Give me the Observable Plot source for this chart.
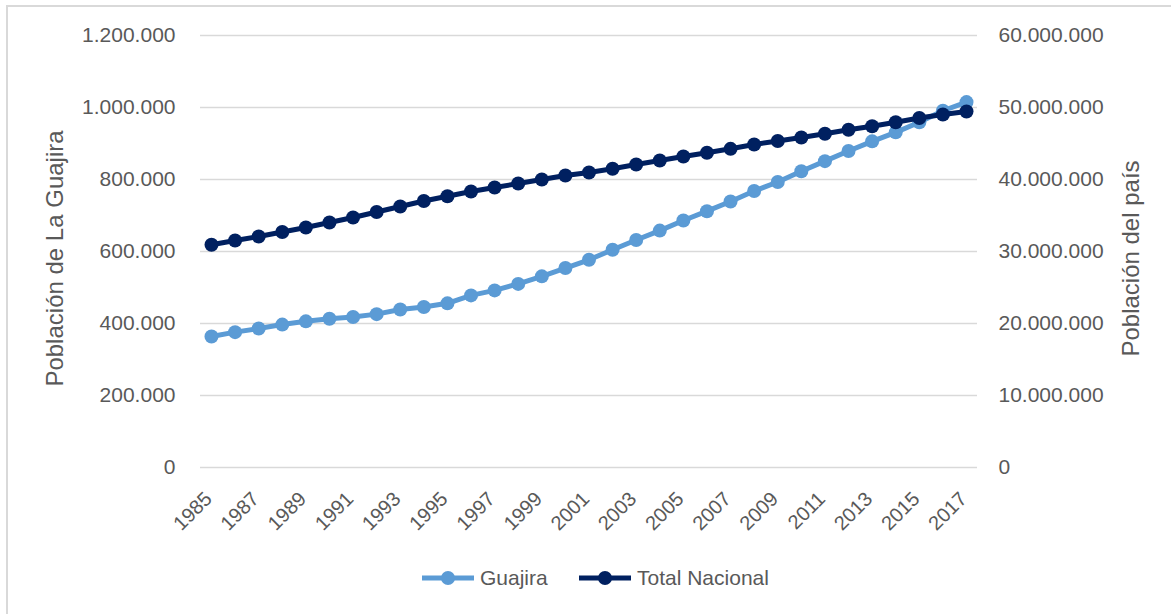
<!DOCTYPE html>
<html>
<head>
<meta charset="utf-8">
<script src="https://cdn.jsdelivr.net/npm/d3@7"></script>
<script src="https://cdn.jsdelivr.net/npm/@observablehq/plot@0.6"></script>
<style>
  body { margin: 0; background: #fff; font-family: "Liberation Sans", Arial, sans-serif; }
  #wrap { position: relative; width: 1171px; height: 614px; overflow: hidden; background: #fff; }
  #frame { position: absolute; left: 6px; top: 5px; width: 1200px; height: 700px; border-left: 2px solid #d9d9d9; border-top: 2px solid #d9d9d9; box-sizing: border-box; }
  #chart { position: absolute; left: 0; top: 0; }
  .leg { position: absolute; top: 565px; height: 26px; display: flex; align-items: center; color: #595959; font-size: 21px; }
  .leg svg { margin-right: 6px; }
</style>
</head>
<body>
<div id="wrap">
  <div id="frame"></div>
  <div id="chart"></div>
  <div id="legend"></div>
</div>
<script>
// ---- data ----
const years = [1985, 1986, 1987, 1988, 1989, 1990, 1991, 1992, 1993, 1994, 1995, 1996, 1997, 1998, 1999, 2000,
               2001, 2002, 2003, 2004, 2005, 2006, 2007, 2008, 2009, 2010, 2011, 2012, 2013, 2014, 2015, 2016, 2017];
const guajira = [364000, 376000, 386000, 397000, 406000, 413000, 418000, 426000, 439000, 446000, 456000, 478000,
                 492000, 510000, 531000, 554000, 577000, 605000, 632000, 658000, 686000, 712000, 739000, 768000,
                 793000, 823000, 851000, 879000, 906000, 931000, 959000, 991000, 1015000];
const nacional = [30930000, 31530000, 32080000, 32710000, 33330000, 34030000, 34720000, 35490000, 36250000,
                  37010000, 37680000, 38330000, 38890000, 39440000, 40000000, 40560000, 40970000, 41490000,
                  42080000, 42640000, 43190000, 43710000, 44260000, 44860000, 45350000, 45830000, 46350000,
                  46900000, 47400000, 47960000, 48540000, 49030000, 49440000];
const xTickYears = [1985, 1987, 1989, 1991, 1993, 1995, 1997, 1999, 2001, 2003, 2005, 2007, 2009, 2011, 2013, 2015, 2017];
const leftTicks = [0, 200000, 400000, 600000, 800000, 1000000, 1200000];
const rightMax = 60000000;
const leftMax = 1200000;
const seriesNames = ["Guajira", "Total Nacional"];
const seriesColors = ["#5B9BD5", "#002060"];
const leftTitle = "Población de La Guajira";
const rightTitle = "Población del país";

// ---- build ----
const ratio = leftMax / rightMax;
const fmt = d3.formatLocale({decimal: ",", thousands: ".", grouping: [3], currency: ["", ""]}).format(",d");
const rows = years.map((y, i) => ({year: y, g: guajira[i], t: nacional[i] * ratio}));
const textColor = "#595959";
const font = '"Liberation Sans", Arial, sans-serif';

const chart = Plot.plot({
  width: 1171,
  height: 540,
  marginLeft: 200,
  marginRight: 194,
  marginTop: 35,
  marginBottom: 73,
  style: {fontFamily: font, fontSize: "21px", color: textColor, background: "transparent", overflow: "visible"},
  x: {domain: [1985, 2017], insetLeft: 11, insetRight: 11},
  y: {domain: [0, leftMax]},
  marks: [
    Plot.gridY(leftTicks, {stroke: "#d9d9d9", strokeOpacity: 1, strokeWidth: 1.5}),
    Plot.axisY(leftTicks, {anchor: "left", tickSize: 0, tickPadding: 25, tickFormat: fmt, label: null, fill: textColor, fontSize: 21}),
    Plot.axisY(leftTicks, {anchor: "right", tickSize: 0, tickPadding: 21, tickFormat: d => fmt(Math.round(d / ratio)), label: null, fill: textColor, fontSize: 21}),
    Plot.axisX(xTickYears, {anchor: "bottom", tickSize: 0, tickPadding: 28, tickRotate: -45, tickFormat: d => String(d), label: null, fill: textColor, fontSize: 20, dx: -3}),
    Plot.lineY(rows, {x: "year", y: "g", stroke: seriesColors[0], strokeWidth: 5}),
    Plot.dot(rows, {x: "year", y: "g", fill: seriesColors[0], r: 7}),
    Plot.lineY(rows, {x: "year", y: "t", stroke: seriesColors[1], strokeWidth: 5}),
    Plot.dot(rows, {x: "year", y: "t", fill: seriesColors[1], r: 7}),
    Plot.text([leftTitle], {frameAnchor: "left", dx: -145, dy: 7, rotate: -90, fontSize: 24, fill: textColor, textAnchor: "middle"}),
    Plot.text([rightTitle], {frameAnchor: "right", dx: 154, dy: 7, rotate: -90, fontSize: 24, fill: textColor, textAnchor: "middle"})
  ]
});
document.getElementById("chart").appendChild(chart);

// ---- legend ----
const legend = document.getElementById("legend");
const legLefts = [422, 579];
seriesNames.forEach((name, i) => {
  const item = document.createElement("div");
  item.className = "leg";
  item.style.left = legLefts[i] + "px";
  item.innerHTML = `<svg width="52" height="20"><line x1="0" x2="52" y1="10" y2="10" stroke="${seriesColors[i]}" stroke-width="5"/><circle cx="26" cy="10" r="7" fill="${seriesColors[i]}"/></svg><span>${name}</span>`;
  legend.appendChild(item);
});
</script>
</body>
</html>
